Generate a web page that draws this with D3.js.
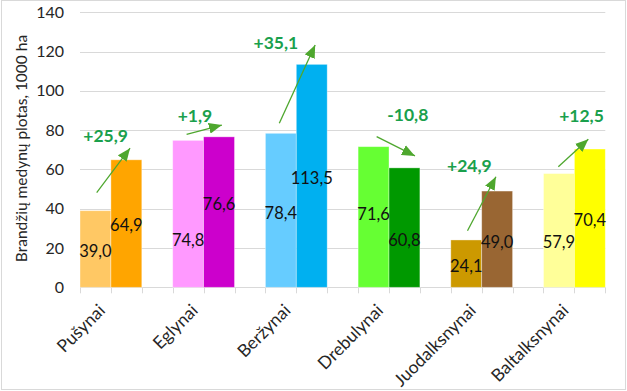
<!DOCTYPE html>
<html>
<head>
<meta charset="utf-8">
<script src="https://cdn.jsdelivr.net/npm/d3@7/dist/d3.min.js"></script>
<style>
  html, body { margin: 0; padding: 0; background: #fff; }
  svg { display: block; font-family: Lato, "Open Sans", sans-serif; }
</style>
</head>
<body>
<svg id="chart" width="627" height="391"></svg>
<script>
// ---- data ----
const categories = ["Pušynai", "Eglynai", "Beržynai", "Drebulynai", "Juodalksnynai", "Baltalksnynai"];
const valuesBefore = [39.0, 74.8, 78.4, 71.6, 24.1, 57.9];
const valuesAfter  = [64.9, 76.6, 113.5, 60.8, 49.0, 70.4];
const changeLabels = ["+25,9", "+1,9", "+35,1", "-10,8", "+24,9", "+12,5"];
const yTicks = [0, 20, 40, 60, 80, 100, 120, 140];
const yTitle = "Brandžių medynų plotas, 1000 ha";

// ---- styles / layout ----
const colorsBefore = ["#FFC864", "#FF99FF", "#66CCFF", "#66FF33", "#CC9900", "#FFFF99"];
const colorsAfter  = ["#FFA500", "#CC00CC", "#00B0F0", "#009900", "#996633", "#FFFF00"];
// where value labels sit (in data units) – manual placement as in original
const labelAtBefore = [18.5, 24.1, 37.8, 37.5, 10.8, 22.9];
const labelAtAfter  = [31.7, 42.4, 55.7, 24.1, 23.2, 34.3];
// annotation arrows: [slot position, value]
const arrowFrom = [[0.54, 48.2], [3.45, 77.9], [6.45, 83.5], [9.60, 76.7], [12.54, 28.8], [15.48, 61.4]];
const arrowTo   = [[1.62, 70.8], [4.59, 82.6], [7.61, 123.4], [10.84, 66.9], [13.46, 56.3], [16.45, 75.4]];
const changeAt  = [[0.83, 77.0], [3.72, 87.2], [6.34, 124.4], [10.61, 87.7], [12.60, 61.8], [16.23, 87.2]];

const W = 627, H = 391;
const plot = { left: 80, right: 605.3, top: 12.3, bottom: 287.3 };
const nSlots = categories.length * 3 - 1;

const svg = d3.select("#chart");

// border
svg.append("rect").attr("x", 1.5).attr("y", 0.5).attr("width", W - 3).attr("height", H - 2)
  .attr("fill", "#fff").attr("stroke", "#d9d9d9").attr("stroke-width", 1);

const x = d3.scaleLinear().domain([0, nSlots]).range([plot.left, plot.right]);
const y = d3.scaleLinear().domain([0, 140]).range([plot.bottom, plot.top]);

// gridlines
svg.append("g").selectAll("line").data(yTicks).join("line")
  .attr("x1", plot.left).attr("x2", plot.right)
  .attr("y1", d => Math.round(y(d)) + 0.5).attr("y2", d => Math.round(y(d)) + 0.5)
  .attr("stroke", "#d9d9d9").attr("stroke-width", 1);

// y axis labels
const yAxis = d3.axisLeft(y).tickValues(yTicks).tickSize(0).tickPadding(0).tickFormat(d3.format("d"));
const yg = svg.append("g").attr("transform", `translate(${plot.left - 16},0)`).call(yAxis);
yg.select(".domain").remove();
yg.selectAll("text").attr("font-size", 16).attr("fill", "#262626").attr("font-family", "Lato, sans-serif");

// x tick marks at slot boundaries
const xTickVals = d3.range(0, nSlots + 1);
svg.append("g").selectAll("line").data(xTickVals).join("line")
  .attr("x1", d => Math.round(x(d)) + 0.5).attr("x2", d => Math.round(x(d)) + 0.5)
  .attr("y1", plot.bottom).attr("y2", plot.bottom + 6)
  .attr("stroke", "#d9d9d9").attr("stroke-width", 1);

// bars
const bars = [];
categories.forEach((c, i) => {
  bars.push({ slot: i * 3, v: valuesBefore[i], color: colorsBefore[i], lab: labelAtBefore[i] });
  bars.push({ slot: i * 3 + 1, v: valuesAfter[i], color: colorsAfter[i], lab: labelAtAfter[i] });
});
svg.append("g").selectAll("rect").data(bars).join("rect")
  .attr("x", d => x(d.slot)).attr("width", d => x(d.slot + 1) - x(d.slot))
  .attr("y", d => y(d.v)).attr("height", d => y(0) - y(d.v))
  .attr("fill", d => d.color)
  .attr("stroke", "rgba(255,255,255,0.45)").attr("stroke-width", 0.8);

// value labels
const fmt = v => d3.format(".1f")(v).replace(".", ",");
svg.append("g").selectAll("text").data(bars).join("text")
  .attr("x", d => x(d.slot + 0.5)).attr("y", d => y(d.lab))
  .attr("dy", "0.36em").attr("text-anchor", "middle")
  .attr("font-size", 16.5).attr("fill", "#111")
  .text(d => fmt(d.v));

// category labels (rotated)
svg.append("g").selectAll("text").data(categories).join("text")
  .attr("transform", (d, i) => `translate(${x(i * 3 + 1) - 9},${plot.bottom + 20}) rotate(-45)`)
  .attr("text-anchor", "end").attr("dy", "0.35em")
  .attr("font-size", 17.5).attr("fill", "#262626")
  .text(d => d);

// y title
svg.append("text")
  .attr("transform", `translate(26.5,${(25 + 272) / 2}) rotate(-90)`)
  .attr("text-anchor", "middle").attr("font-size", 15.5).attr("fill", "#262626")
  .text(yTitle);

// arrows
const defs = svg.append("defs");
defs.append("marker").attr("id", "ah").attr("viewBox", "0 0 12 10")
  .attr("refX", 12).attr("refY", 5).attr("markerWidth", 13).attr("markerHeight", 11)
  .attr("markerUnits", "userSpaceOnUse").attr("orient", "auto")
  .append("path").attr("d", "M0,0 L12,5 L0,10 Z").attr("fill", "#4EA72E");

svg.append("g").selectAll("line").data(categories).join("line")
  .attr("x1", (d, i) => x(arrowFrom[i][0])).attr("y1", (d, i) => y(arrowFrom[i][1]))
  .attr("x2", (d, i) => x(arrowTo[i][0])).attr("y2", (d, i) => y(arrowTo[i][1]))
  .attr("stroke", "#4EA72E").attr("stroke-width", 1.3).attr("marker-end", "url(#ah)");

// change labels
svg.append("g").selectAll("text").data(changeLabels).join("text")
  .attr("x", (d, i) => x(changeAt[i][0])).attr("y", (d, i) => y(changeAt[i][1]))
  .attr("dy", "0.36em").attr("text-anchor", "middle")
  .attr("font-size", 17.5).attr("font-weight", "bold").attr("fill", "#1AA04C")
  .text(d => d);
</script>
</body>
</html>
